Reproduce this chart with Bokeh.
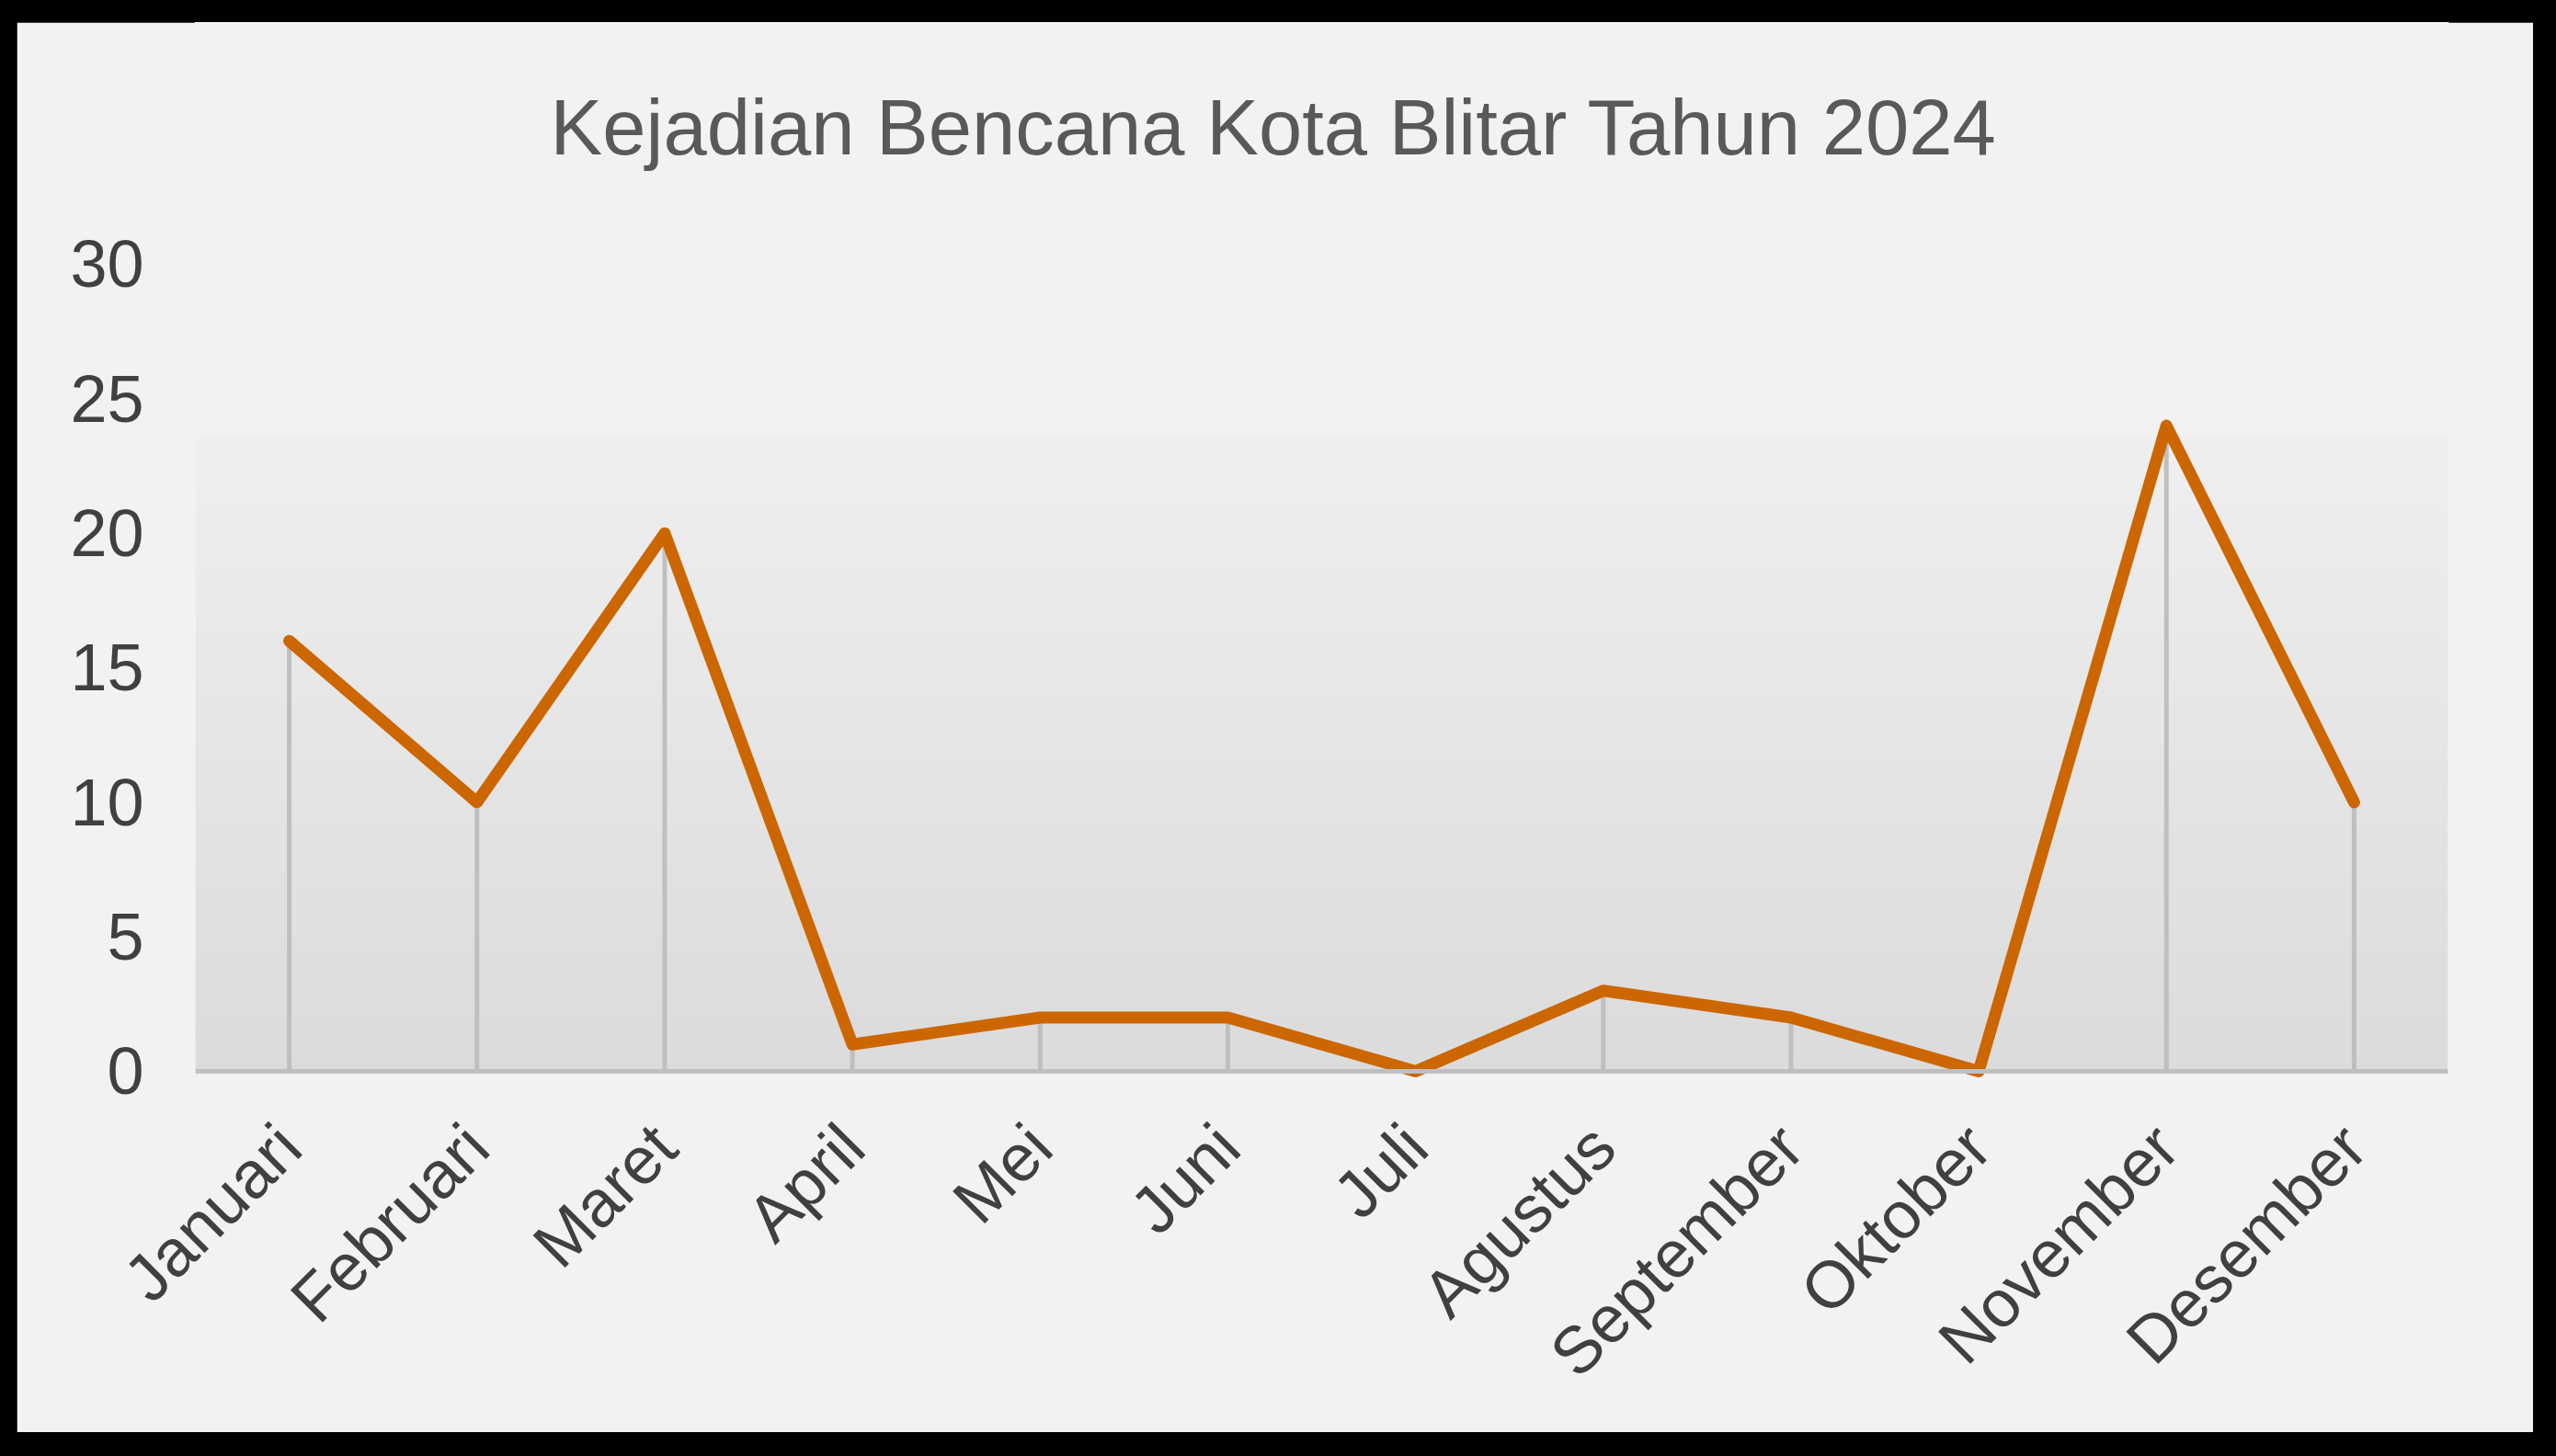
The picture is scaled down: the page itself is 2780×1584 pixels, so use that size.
import math
import numpy as np
from jinja2 import Template
from bokeh.plotting import figure
from bokeh.models import FactorRange, Range1d, FixedTicker, Span, ColumnDataSource
from bokeh.core.properties import value
from bokeh.embed import file_html
from bokeh.resources import INLINE

# ---- data ----
title_text = "Kejadian Bencana Kota Blitar Tahun 2024"
months = ["Januari", "Februari", "Maret", "April", "Mei", "Juni", "Juli",
          "Agustus", "September", "Oktober", "November", "Desember"]
values = [16, 10, 20, 1, 2, 2, 0, 3, 2, 0, 24, 10]
y_ticks = [0, 5, 10, 15, 20, 25, 30]

# ---- style ----
FONT = "Liberation Sans"
LINE_COLOR = "#cc6600"
GRID_GRAY = "#bfbfbf"
PANEL_BG = "#f2f2f2"
GRAD_TOP = (239, 239, 239)
GRAD_BOTTOM = (219, 219, 219)
GRAD_TOP_VALUE = 23.6   # height of the shaded plot-area band (style)
Y_MIN = -0.342
Y_MAX = 38.986          # frame extends up to hold the title
TITLE_Y = 35.08         # title position (layout)
TITLE_X = 5.745         # centred over the whole chart panel (layout)

p = figure(
    x_range=FactorRange(factors=months, range_padding=0),
    y_range=Range1d(Y_MIN, Y_MAX),
    width=2737, height=1534,
    output_backend="svg", toolbar_location=None,
    min_border_left=194, min_border_right=93,
    min_border_top=0, min_border_bottom=383,
    background_fill_color=PANEL_BG, border_fill_color=PANEL_BG,
    outline_line_color=PANEL_BG, outline_line_width=2,
)
p.margin = (24, 25, 26, 18)

# gradient plot-area background (overlapping strips to avoid seams)
n_strips = 60
edges = np.linspace(0, GRAD_TOP_VALUE, n_strips + 1)
overlap = GRAD_TOP_VALUE / n_strips * 0.6
cols = []
tops = []
for i in range(n_strips):
    t = (i + 0.5) / n_strips
    r, g, b = [int(round(GRAD_BOTTOM[k] + (GRAD_TOP[k] - GRAD_BOTTOM[k]) * t)) for k in range(3)]
    cols.append(f"#{r:02x}{g:02x}{b:02x}")
    tops.append(edges[i + 1] + (overlap if i < n_strips - 1 else 0))
p.quad(left=[0] * n_strips, right=[len(months)] * n_strips,
       bottom=edges[:-1], top=tops, fill_color=cols, line_color=None)

# title
p.text(x=[TITLE_X], y=[TITLE_Y], text=[title_text],
       text_font=value(FONT), text_font_size="85px", text_color="#595959",
       text_align="center", text_baseline="alphabetic")

# drop lines
src = ColumnDataSource(dict(m=months, v=values, z=[0] * len(months)))
p.segment(x0="m", y0="z", x1="m", y1="v", source=src, line_color=GRID_GRAY, line_width=5)

# x axis line at zero
p.add_layout(Span(location=0, dimension="width", line_color=GRID_GRAY, line_width=5))

# data line
p.line(x="m", y="v", source=src, line_color=LINE_COLOR, line_width=13,
       line_join="round", line_cap="round")

# axes
p.xgrid.visible = False
p.ygrid.visible = False

p.yaxis.ticker = FixedTicker(ticks=y_ticks)
p.yaxis.axis_line_color = None
p.yaxis.major_tick_line_color = None
p.yaxis.minor_tick_line_color = None
p.yaxis.major_tick_in = 0
p.yaxis.major_tick_out = 0
p.yaxis.major_label_standoff = 56
p.yaxis.major_label_text_font = FONT
p.yaxis.major_label_text_font_size = "72px"
p.yaxis.major_label_text_color = "#404040"

p.xaxis.axis_line_color = None
p.xaxis.major_tick_line_color = None
p.xaxis.minor_tick_line_color = None
p.xaxis.major_tick_in = 0
p.xaxis.major_tick_out = 0
p.xaxis.major_label_standoff = 60
p.xaxis.major_label_orientation = math.pi / 4
p.xaxis.major_label_text_font = FONT
p.xaxis.major_label_text_font_size = "72px"
p.xaxis.major_label_text_color = "#404040"

page = Template(
    "{% extends base %}"
    "{% block preamble %}<style>html, body { background: #000000 !important; }</style>{% endblock %}"
)

open("out.html", "w").write(file_html(p, INLINE, template=page))
